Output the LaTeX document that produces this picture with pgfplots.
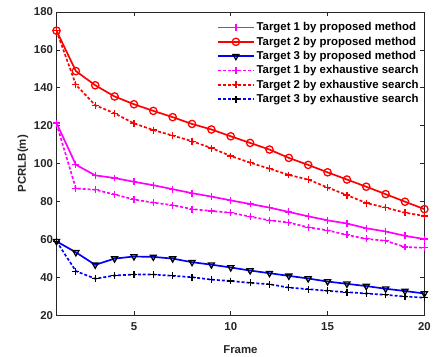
\documentclass[border=0pt]{standalone}
\usepackage{pgfplots}
\pgfplotsset{compat=1.18}
\usepackage{fontspec}
\setmainfont{Liberation Sans}
\definecolor{axgray}{HTML}{262626}
\definecolor{mmag}{RGB}{255,0,255}
\definecolor{mred}{RGB}{255,0,0}
\definecolor{mblue}{RGB}{0,0,255}
\begin{document}
\begin{tikzpicture}
\begin{axis}[
  name=ax,
  scale only axis,
  width=371pt, height=306pt,
  xmin=1, xmax=20, ymin=20, ymax=180,
  xtick={5,10,15,20}, ytick={20,40,...,180},
  tick align=inside, tick pos=both,
  major tick length=4pt,
  axis line style={axgray, line width=0.6pt},
  tick style={axgray, line width=0.6pt},
  /pgf/number format/assume math mode=true,
  tick label style={font=\fontsize{11.5}{13}\selectfont\bfseries, text=axgray},
  xticklabel style={yshift=-3.5pt},
  xlabel={\bfseries Frame}, ylabel={\bfseries PCRLB(m)},
  label style={font=\fontsize{11.5}{13}\selectfont, text=axgray},
  xlabel style={at={(rel axis cs:0.5,0)}, anchor=center, yshift=-34.5pt},
  ylabel style={at={(rel axis cs:0,0.5)}, anchor=center, yshift=34pt},
  legend style={draw=none, fill=none, at={(0.993,0.975)}, anchor=north east,
    font=\fontsize{11.5}{13}\selectfont\bfseries, row sep=0.6pt, inner sep=1pt},
  legend cell align=left,
  legend image code/.code={\draw[mark repeat=2, mark phase=2, line width=1.7pt, #1] plot coordinates {(0pt,0pt) (18pt,0pt) (36pt,0pt)};},
  every axis plot/.append style={line width=1.7pt},
]
\addplot[mmag, mark=+, mark size=3.5pt, mark options={solid, line width=1.2pt}] coordinates {
(1,121.4)(2,99.4)(3,93.8)(4,92.4)(5,90.4)(6,88.6)(7,86.5)(8,84.4)(9,82.6)(10,80.6)
(11,78.7)(12,76.8)(13,74.5)(14,72.2)(15,70.1)(16,68.4)(17,65.9)(18,64.2)(19,61.9)(20,60.2)};
\addlegendentry{Target 1 by proposed method}
\addplot[mred, mark=o, mark size=3.7pt, mark options={solid, fill=white, line width=1.3pt}] coordinates {
(1,170.1)(2,148.8)(3,141.3)(4,135.4)(5,131.3)(6,127.8)(7,124.5)(8,120.9)(9,118.0)(10,114.4)
(11,110.9)(12,107.4)(13,103.0)(14,99.3)(15,95.4)(16,91.6)(17,87.8)(18,83.9)(19,79.9)(20,76.0)};
\addlegendentry{Target 2 by proposed method}
\addplot[mblue, mark=triangle, mark size=3.5pt, mark options={solid, draw=black, fill=white, rotate=180, line width=1.3pt}] coordinates {
(1,59.0)(2,53.2)(3,46.6)(4,49.9)(5,51.0)(6,50.8)(7,49.9)(8,48.0)(9,46.7)(10,45.2)
(11,43.6)(12,42.2)(13,40.8)(14,39.4)(15,37.8)(16,36.6)(17,35.4)(18,34.0)(19,32.8)(20,31.5)};
\addlegendentry{Target 3 by proposed method}
\addplot[mmag, dash pattern=on 3pt off 2pt, mark=+, mark size=3.5pt, mark options={solid, line width=1.2pt}] coordinates {
(1,121.0)(2,86.9)(3,86.2)(4,83.7)(5,81.1)(6,79.4)(7,78.1)(8,76.0)(9,75.0)(10,74.1)
(11,72.0)(12,70.1)(13,68.9)(14,66.4)(15,64.8)(16,62.4)(17,60.3)(18,59.3)(19,56.0)(20,55.6)};
\addlegendentry{Target 1 by exhaustive search}
\addplot[mred, dash pattern=on 3pt off 2pt, mark=+, mark size=3.5pt, mark options={solid, line width=1.2pt}] coordinates {
(1,170.0)(2,141.6)(3,130.8)(4,126.5)(5,121.2)(6,117.7)(7,114.8)(8,111.8)(9,108.2)(10,104.0)
(11,100.5)(12,97.3)(13,94.0)(14,91.6)(15,87.4)(16,83.4)(17,79.2)(18,76.8)(19,74.1)(20,72.4)};
\addlegendentry{Target 2 by exhaustive search}
\addplot[mblue, dash pattern=on 3pt off 2pt, mark=+, mark size=3.5pt, mark options={solid, draw=black, line width=1.2pt}] coordinates {
(1,59.0)(2,43.3)(3,39.3)(4,41.0)(5,41.5)(6,41.5)(7,40.8)(8,40.1)(9,38.8)(10,38.1)
(11,37.1)(12,36.4)(13,34.6)(14,33.8)(15,32.9)(16,32.2)(17,31.5)(18,30.8)(19,29.9)(20,29.3)};
\addlegendentry{Target 3 by exhaustive search}
\end{axis}
\path (ax.south west) ++(-57pt,-36pt);
\path (ax.north east) ++(6pt,12pt);
\end{tikzpicture}
\end{document}
